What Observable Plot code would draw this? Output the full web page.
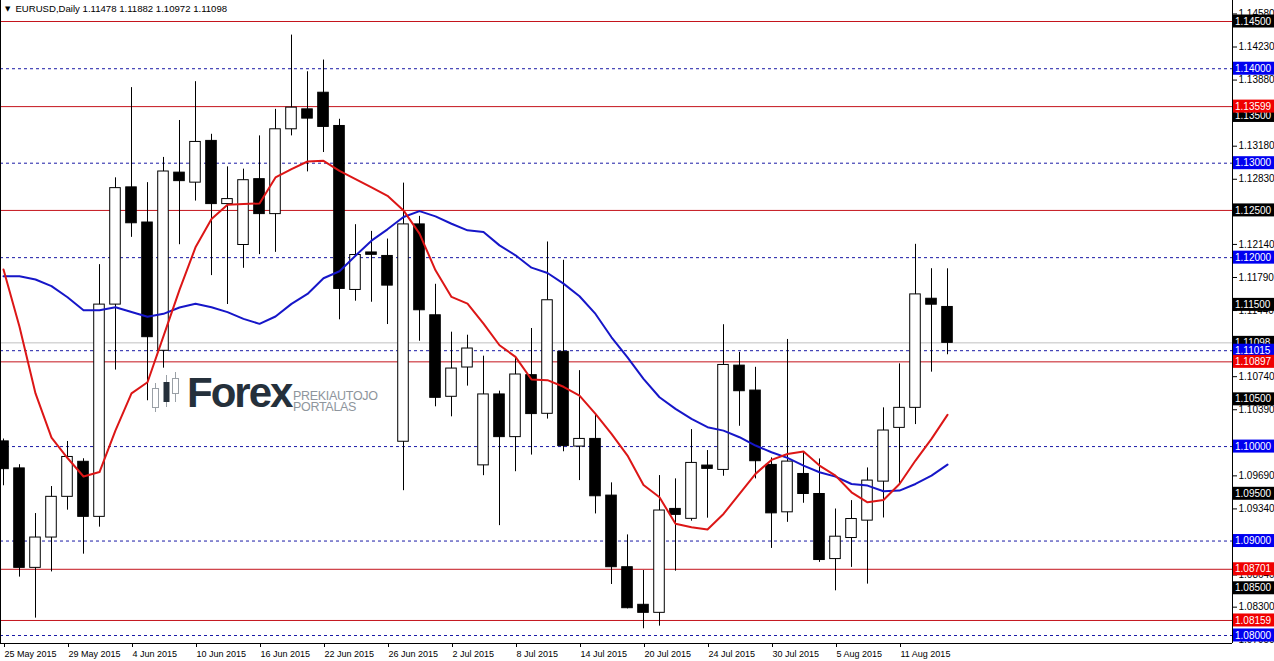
<!DOCTYPE html>
<html><head><meta charset="utf-8">
<script src="https://cdn.jsdelivr.net/npm/d3@7"></script>
<script src="https://cdn.jsdelivr.net/npm/@observablehq/plot@0.6"></script>
<style>
html,body{margin:0;padding:0;background:#fff;}
#wrap{position:relative;width:1274px;height:661px;overflow:hidden;font-family:"Liberation Sans",Tahoma,Arial,sans-serif;}
#hdr{position:absolute;left:5px;top:3px;font-size:9.6px;color:#000;white-space:pre;}
#hdr .tri{font-family:"DejaVu Sans";font-size:7px;position:relative;top:-1px;margin-right:5px;}
.lg{position:absolute;white-space:nowrap;}
#forex{left:187px;top:369px;font-size:42px;font-weight:bold;color:#25303b;letter-spacing:-2px;}
#pk1{left:293px;top:389px;font-size:12.5px;color:#8e959c;letter-spacing:-0.3px;}
#pk2{left:293px;top:400px;font-size:12.5px;color:#8e959c;letter-spacing:-0.3px;}
#icon{left:150px;top:370px;}
</style></head><body>
<div id="wrap"><div id="chart"></div>
<div id="hdr"></div>
<svg id="icon" class="lg" width="34" height="46">
  <line x1="5.5" y1="13" x2="5.5" y2="42" stroke="#9aa0a6"/>
  <rect x="2.5" y="18.5" width="6" height="19" fill="#fff" stroke="#9aa0a6"/>
  <line x1="16.5" y1="5" x2="16.5" y2="37" stroke="#9aa0a6"/>
  <rect x="13.5" y="12" width="6" height="20" fill="#25303b"/>
  <line x1="25.5" y1="2" x2="25.5" y2="32" stroke="#9aa0a6"/>
  <rect x="22.5" y="8.5" width="6" height="15" fill="#fff" stroke="#9aa0a6"/>
</svg>
<div id="forex" class="lg">Forex</div>
<div id="pk1" class="lg">PREKIAUTOJO</div>
<div id="pk2" class="lg">PORTALAS</div>
</div>
<script>
// ---- data ----
const symbol = "EURUSD";
const timeframe = "Daily";
const dates = [
"2015-05-25","2015-05-26","2015-05-27","2015-05-28","2015-05-29",
"2015-06-01","2015-06-02","2015-06-03","2015-06-04","2015-06-05",
"2015-06-08","2015-06-09","2015-06-10","2015-06-11","2015-06-12",
"2015-06-15","2015-06-16","2015-06-17","2015-06-18","2015-06-19",
"2015-06-22","2015-06-23","2015-06-24","2015-06-25","2015-06-26",
"2015-06-29","2015-06-30","2015-07-01","2015-07-02","2015-07-03",
"2015-07-06","2015-07-07","2015-07-08","2015-07-09","2015-07-10",
"2015-07-13","2015-07-14","2015-07-15","2015-07-16","2015-07-17",
"2015-07-20","2015-07-21","2015-07-22","2015-07-23","2015-07-24",
"2015-07-27","2015-07-28","2015-07-29","2015-07-30","2015-07-31",
"2015-08-03","2015-08-04","2015-08-05","2015-08-06","2015-08-07",
"2015-08-10","2015-08-11","2015-08-12","2015-08-13","2015-08-14"];
const open = [
1.10055,1.09769,1.08716,1.09037,1.09468,1.09839,1.09256,1.11503,1.12744,1.12372,
1.11014,1.12900,1.12794,1.13236,1.12567,1.12134,1.12831,1.12461,1.13359,1.13570,
1.13746,1.13394,1.11658,1.12055,1.12018,1.10051,1.12352,1.11390,1.10527,1.10837,
1.09801,1.10552,1.10100,1.10756,1.10347,1.11003,1.10000,1.10081,1.09481,1.08723,
1.08325,1.08240,1.09340,1.09235,1.09799,1.09753,1.10857,1.10593,1.09806,1.09304,
1.09710,1.09498,1.08809,1.09032,1.09216,1.09629,1.10198,1.10410,1.11565,1.11478];
const high = [
1.10080,1.09808,1.09291,1.09577,1.10054,1.09871,1.11926,1.12845,1.13800,1.12794,
1.13061,1.13452,1.13863,1.13306,1.12961,1.12937,1.13289,1.13570,1.14356,1.13968,
1.14092,1.13465,1.12349,1.12278,1.12197,1.12789,1.12437,1.11718,1.11211,1.11179,
1.10957,1.10587,1.10950,1.11250,1.12166,1.11972,1.10804,1.10346,1.09616,1.09065,
1.08688,1.09693,1.09658,1.10180,1.09958,1.11290,1.10998,1.10839,1.09880,1.11134,
1.09947,1.09869,1.09339,1.09428,1.09774,1.10410,1.10876,1.12141,1.11883,1.11882];
const low = [
1.09585,1.08618,1.08184,1.08673,1.09327,1.08861,1.09147,1.10810,1.12215,1.10485,
1.10830,1.12137,1.12599,1.11810,1.11504,1.11887,1.12032,1.12056,1.13289,1.12908,
1.13113,1.11342,1.11539,1.11528,1.11292,1.09533,1.11115,1.10421,1.10315,1.10640,
1.09692,1.09163,1.09734,1.09910,1.10291,1.09945,1.09640,1.09287,1.08540,1.08282,
1.08071,1.08099,1.08681,1.09210,1.09242,1.09686,1.10215,1.09658,1.08922,1.09198,
1.09400,1.08774,1.08473,1.08721,1.08544,1.09244,1.09604,1.10233,1.10788,1.10972];
const close = [
1.09761,1.08716,1.09037,1.09468,1.09890,1.09256,1.11503,1.12736,1.12364,1.11158,
1.12912,1.12810,1.13225,1.12567,1.12620,1.12820,1.12461,1.13359,1.13588,1.13472,
1.13384,1.11669,1.12028,1.12030,1.11704,1.12352,1.11443,1.10516,1.10826,1.11038,
1.10552,1.10100,1.10763,1.10344,1.11549,1.10005,1.10081,1.09474,1.08723,1.08289,
1.08240,1.09323,1.09277,1.09827,1.09764,1.10864,1.10586,1.09845,1.09293,1.09841,
1.09498,1.08799,1.09046,1.09233,1.09640,1.10170,1.10410,1.11611,1.11502,1.11098];
// red (fast) moving average
const maFast = [
1.11875,1.11268,1.10563,1.10094,1.09879,1.09683,1.09730,1.10172,1.10563,1.10681,
1.11170,1.11659,1.12109,1.12408,1.12560,1.12567,1.12574,1.12849,1.12937,1.13018,
1.13025,1.12919,1.12831,1.12743,1.12655,1.12500,1.12254,1.11866,1.11584,1.11514,
1.11302,1.11073,1.10950,1.10710,1.10703,1.10633,1.10540,1.10346,1.10134,1.09905,
1.09594,1.09464,1.09182,1.09146,1.09122,1.09287,1.09499,1.09711,1.09859,1.09922,
1.09947,1.09799,1.09693,1.09516,1.09410,1.09435,1.09604,1.09852,1.10081,1.10336];
// blue (slow) moving average
const maSlow = [
1.11804,1.11804,1.11769,1.11699,1.11581,1.11444,1.11444,1.11475,1.11425,1.11374,
1.11405,1.11472,1.11511,1.11475,1.11423,1.11352,1.11299,1.11377,1.11511,1.11616,
1.11782,1.11856,1.12021,1.12180,1.12300,1.12430,1.12493,1.12437,1.12359,1.12289,
1.12271,1.12130,1.12025,1.11894,1.11838,1.11725,1.11591,1.11404,1.11157,1.10945,
1.10716,1.10522,1.10399,1.10293,1.10205,1.10169,1.10099,1.10011,1.09940,1.09880,
1.09799,1.09728,1.09682,1.09604,1.09587,1.09527,1.09534,1.09604,1.09693,1.09809];
const tickIdx = [0,4,8,12,16,20,24,28,32,36,40,44,48,52,56];
const tickLabels = ["25 May 2015","29 May 2015","4 Jun 2015","10 Jun 2015","16 Jun 2015","22 Jun 2015","26 Jun 2015","2 Jul 2015","8 Jul 2015","14 Jul 2015","20 Jul 2015","24 Jul 2015","30 Jul 2015","5 Aug 2015","11 Aug 2015"];
const yTicks = [1.14580,1.14230,1.13880,1.13180,1.12830,1.12140,1.11790,1.11440,1.10740,1.10390,1.09690,1.09340,1.08640,1.08300,1.07950];
const redLevels = [1.14500,1.13599,1.12500,1.10897,1.08701,1.08159];
const blueLevels = [1.14000,1.13000,1.12000,1.11015,1.10000,1.09000,1.08000];
const bidLevel = 1.11098;
const blackLabels = [1.14500,1.13500,1.12500,1.11500,1.11098,1.10500,1.09500,1.08500];
const blueLabels = [1.14000,1.13000,1.12000,1.11015,1.10000,1.09000,1.08000];
const redLabels = [1.13599,1.10897,1.08701,1.08159];

// ---- chart ----
const rows = dates.map((d, i) => ({i, date: d, o: open[i], h: high[i], l: low[i], c: close[i], fast: maFast[i], slow: maSlow[i]}));
const upRows = rows.filter(r => r.c >= r.o);
const downRows = rows.filter(r => r.c < r.o);
const K = 614 / 0.065;
const yMax = 1.145 + 21 / K, yMin = 1.08 - 8 / K;
const xMin = -0.1875, xMax = 76.8125;

const plot = Plot.plot({
  width: 1274, height: 661,
  marginLeft: 0, marginRight: 42, marginTop: 0, marginBottom: 18,
  style: {fontFamily: '"Liberation Sans", Tahoma, sans-serif', fontSize: "9.5px", background: "#fff", color: "#000", overflow: "hidden"},
  x: {domain: [xMin, xMax], axis: null},
  y: {domain: [yMin, yMax], axis: null},
  marks: [
    Plot.ruleY(redLevels, {stroke: "#c4141c", strokeWidth: 1}),
    Plot.ruleY(blueLevels, {stroke: "#1a1aa6", strokeDasharray: "3,3"}),
    Plot.ruleY([bidLevel], {stroke: "#c0c0c0"}),
    Plot.ruleX(rows, {x: "i", y1: "l", y2: "h", stroke: "#000"}),
    Plot.rect(upRows, {x1: d => d.i - 0.33, x2: d => d.i + 0.33, y1: "o", y2: "c", fill: "#fff", stroke: "#000"}),
    Plot.rect(downRows, {x1: d => d.i - 0.33, x2: d => d.i + 0.33, y1: "o", y2: "c", fill: "#000", stroke: "#000"}),
    Plot.line(rows, {x: "i", y: "slow", stroke: "#1616c8", strokeWidth: 2}),
    Plot.line(rows, {x: "i", y: "fast", stroke: "#dc1616", strokeWidth: 2}),
    Plot.ruleX([xMin], {stroke: "#000"}),
    Plot.ruleX([xMax], {stroke: "#000"}),
    Plot.ruleY([yMin], {stroke: "#000"}),
    Plot.axisY({anchor: "right", ticks: yTicks, tickFormat: d => d.toFixed(5), tickSize: 4, tickPadding: 2, fontSize: 10, label: null}),
    Plot.axisX({anchor: "bottom", ticks: tickIdx, tickFormat: d => tickLabels[tickIdx.indexOf(d)], tickSize: 4, tickPadding: 3, textAnchor: "start", dx: 1, fontSize: 9, label: null})
  ]
});
document.getElementById("chart").appendChild(plot);

// price labels on the right scale
const ys = plot.scale("y");
const g = d3.select(plot).append("g").attr("font-size", 10).attr("text-anchor", "start");
const addLabels = (vals, bg) => vals.forEach(v => {
  const y = ys.apply(v);
  g.append("rect").attr("x", 1233).attr("y", y - 6.5).attr("width", 41).attr("height", 13).attr("fill", bg);
  g.append("text").attr("x", 1235).attr("y", y + 3.6).attr("fill", "#fff").text(v.toFixed(5));
});
addLabels(blackLabels, "#000");
addLabels(blueLabels, "#0000f0");
addLabels(redLabels, "#f00000");

const last = rows.length - 1;
document.getElementById("hdr").innerHTML = '<span class="tri">\u25BC</span>' +
  `${symbol},${timeframe} ${open[last].toFixed(5)} ${high[last].toFixed(5)} ${low[last].toFixed(5)} ${close[last].toFixed(5)}`;
</script>
</body></html>
